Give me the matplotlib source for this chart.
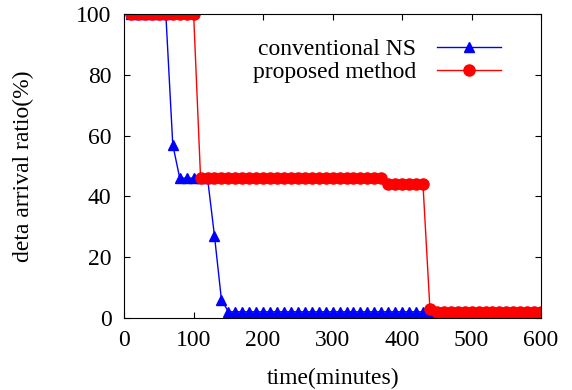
import matplotlib
matplotlib.use('Agg')
import matplotlib.pyplot as plt

plt.rcParams['font.family'] = ['Liberation Serif', 'DejaVu Serif']

# time in minutes, sampled every 10 minutes
time = list(range(10, 610, 10))

# conventional NS (%)
conv = [100] * 6 + [57, 46, 46, 46, 46, 46, 27, 6] + [2] * 46
# proposed method (%)
prop = [100] * 10 + [46] * 27 + [44] * 6 + [3] + [2] * 16

fig = plt.figure(figsize=(5.72, 3.9), dpi=100)
ax = fig.add_axes([0.217, 0.185, 0.729, 0.779])

ax.plot(time, conv, color='blue', linewidth=1, marker='^', markersize=6.5,
        label='conventional NS')
ax.plot(time, prop, color='red', linewidth=1, marker='o', markersize=8,
        label='proposed method')

ax.set_xlim(0, 600)
ax.set_ylim(0, 100)
ax.set_xticks(range(0, 601, 100))
ax.set_yticks(range(0, 101, 20))
ax.tick_params(direction='in', top=True, right=True, labelsize=17, length=4, pad=9)
ax.set_xlabel('time(minutes)', fontsize=17)
ax.set_ylabel('deta arrival ratio(%)', fontsize=17)
ax.xaxis.set_label_coords(0.5, -0.165)
ax.yaxis.set_label_coords(-0.215, 0.5)

ax.legend(loc='upper right', frameon=False, markerfirst=False, fontsize=17,
          handlelength=2.7, borderaxespad=0.0, labelspacing=0.05,
          handletextpad=0.9, bbox_to_anchor=(0.926, 0.95))

fig.savefig('out.png', dpi=100)
